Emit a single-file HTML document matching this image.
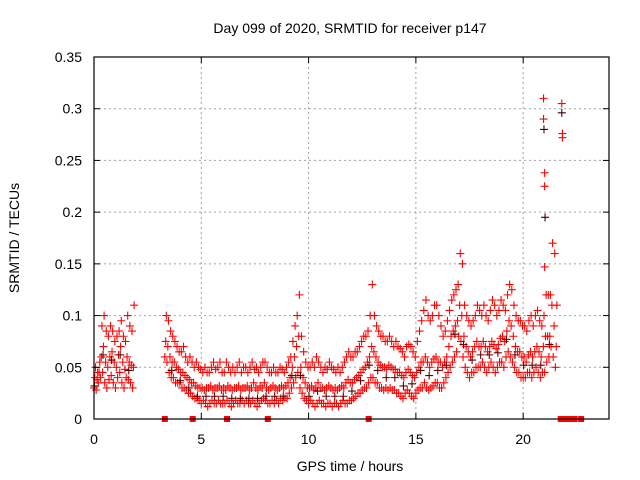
<!DOCTYPE html>
<html><head><meta charset="utf-8"><style>
body{margin:0;background:#fff}
svg{display:block;font-family:"Liberation Sans",sans-serif}
</style></head><body>
<svg id="chart" width="640" height="480" viewBox="0 0 640 480" xmlns="http://www.w3.org/2000/svg">
<rect width="640" height="480" fill="#fff"/>
<text x="350" y="33" font-size="14" text-anchor="middle">Day 099 of 2020, SRMTID for receiver p147</text>
<text x="350" y="471" font-size="14" text-anchor="middle">GPS time / hours</text>
<text transform="translate(19,238) rotate(-90)" font-size="14" text-anchor="middle">SRMTID / TECUs</text>
<g id="grid"></g><g id="marks"></g><g id="axes"></g>
</svg>
<script>
const xTicks=[0,5,10,15,20];
const yTicks=[0,0.05,0.1,0.15,0.2,0.25,0.3,0.35];
const yTickLabels=["0","0.05","0.1","0.15","0.2","0.25","0.3","0.35"];
const startHour=0, stepHour=0.1;
const seriesA=[30,28,35,40,45,35,30,38,42,35,30,40,45,35,30,40,38,35,30,
null,null,null,null,null,null,null,null,null,null,null,null,null,null,
60,55,45,40,40,35,35,
35,30,30,28,25,25,22,20,20,18,
15,18,15,12,15,18,15,15,18,15,
15,15,18,15,12,15,18,15,15,18,
15,18,15,15,18,15,12,15,18,20,
18,15,15,18,15,18,15,20,18,20,
20,25,30,35,40,45,30,25,20,18,
15,18,15,12,15,18,15,15,12,15,
15,12,15,15,12,15,18,15,15,18,
18,20,22,25,25,28,30,30,35,40,
40,35,35,30,30,28,30,28,30,28,
28,25,25,22,20,25,28,25,22,20,
25,28,30,30,35,30,28,30,32,35,
35,30,30,35,40,45,50,55,60,65,
80,75,60,50,45,40,45,45,50,50,
50,55,50,45,50,55,50,45,50,55,
55,50,60,65,60,55,50,45,45,40,
40,40,45,45,40,45,50,45,40,45,
45,55,60,70,60,50,null,null,null,null];
const seriesB=[40,38,45,60,70,55,50,60,65,55,50,62,70,55,48,60,55,52,50,
null,null,null,null,null,null,null,null,null,null,null,null,null,null,
75,70,60,55,55,50,48,
45,45,42,40,38,35,35,32,30,30,
30,28,30,30,32,28,30,30,32,28,
30,28,32,30,28,30,30,32,28,30,
30,32,28,30,35,30,28,32,30,35,
30,28,30,32,30,28,30,32,30,32,
35,40,50,60,70,80,50,40,35,30,
30,32,28,30,35,30,30,28,30,32,
30,28,30,28,30,32,30,35,38,35,
35,38,40,42,45,48,50,55,60,70,
65,60,55,52,50,50,48,52,50,48,
48,45,45,42,40,45,48,45,42,40,
45,50,55,55,60,55,50,55,58,60,
55,55,50,55,60,70,80,85,90,95,
110,100,80,70,65,60,65,70,75,70,
70,75,70,65,70,75,72,68,72,78,
80,75,85,95,90,80,70,65,65,60,
60,55,62,65,60,65,70,65,60,70,
80,80,80,110,90,70,null,null,null,null];
const seriesC=[50,45,55,90,100,85,80,90,85,75,80,85,95,80,75,100,90,85,110,
null,null,null,null,null,null,null,null,null,null,null,null,null,null,
100,95,85,80,75,70,65,
65,70,60,55,60,55,50,55,50,48,
45,50,45,45,50,55,48,50,55,45,
45,55,50,45,50,45,50,55,45,50,
50,45,50,55,48,50,45,50,55,55,
50,45,45,50,45,45,50,48,45,50,
55,60,75,90,100,120,80,65,55,50,
50,55,50,60,55,50,45,50,48,55,
50,48,45,50,45,50,55,60,65,60,
60,65,65,70,75,80,80,85,100,130,
100,90,85,80,80,75,75,80,75,70,
75,70,68,65,60,70,72,70,65,60,
75,85,95,105,115,100,95,100,110,110,
100,90,80,85,95,105,115,120,125,130,
160,150,110,100,95,90,95,100,110,105,
100,110,100,95,105,115,110,100,105,115,
110,105,120,130,125,110,100,95,95,90,
90,85,95,100,90,100,105,95,90,100,
120,120,120,170,160,110,null,null,null,null];
const spikeHours=[20.95,20.95,20.97,21.0,21.0,21.02,21.0,21.8,21.8,21.83,21.83];
const spikeVals=[0.31,0.29,0.28,0.238,0.225,0.195,0.147,0.305,0.296,0.276,0.272];
const zeroHours=[3.3,4.6,6.2,8.1,12.8,21.75,21.95,22.15,22.4,22.7];

const L=94,R=609,T=57,B=419;
const xS=h=>L+(h-0)/24*(R-L);
const yS=v=>B-v/0.35*(B-T);
const NS="http://www.w3.org/2000/svg";
function mk(parent,tag,attrs){const e=document.createElementNS(NS,tag);for(const k in attrs)e.setAttribute(k,attrs[k]);parent.appendChild(e);return e;}
const grid=document.getElementById('grid'),marks=document.getElementById('marks'),axes=document.getElementById('axes');
xTicks.forEach(t=>{const x=xS(t);
 if(t>0){const g=mk(grid,'line',{x1:x,x2:x,y1:T,y2:B,stroke:'#a0a0a0','stroke-dasharray':'2,3'});
 
 }
 mk(axes,'line',{x1:x,x2:x,y1:B,y2:B-6,stroke:'#000'});mk(axes,'line',{x1:x,x2:x,y1:T,y2:T+6,stroke:'#000'});
 const tx=mk(axes,'text',{x:x,y:B+25,'font-size':14,'text-anchor':'middle'});tx.textContent=t;
 
 
});
yTicks.forEach((t,i)=>{const y=yS(t);
 if(t>0&&t<0.35){const g=mk(grid,'line',{x1:L,x2:R,y1:y,y2:y,stroke:'#a0a0a0','stroke-dasharray':'2,3'});
 
 }
 mk(axes,'line',{x1:L,x2:L+6,y1:y,y2:y,stroke:'#000'});mk(axes,'line',{x1:R,x2:R-6,y1:y,y2:y,stroke:'#000'});
 const tx=mk(axes,'text',{x:L-12,y:y+5,'font-size':14,'text-anchor':'end'});tx.textContent=yTickLabels[i];
 
 
});
const frame=mk(axes,'rect',{x:L,y:T,width:R-L,height:B-T,fill:'none',stroke:'#000','stroke-width':1.2});


function plus(h,v,col){const x=xS(h),y=yS(v);
 const p=mk(marks,'path',{d:`M${x-4},${y}h8M${x},${y-4}v8`,stroke:col,'stroke-width':1.1});
 
 }
[[seriesA,0,'#f00'],[seriesB,0.04,'#f00'],[seriesC,0.07,'#f00']].forEach(([s,off,col])=>{
 s.forEach((v,i)=>{if(v!==null)plus(startHour+i*stepHour+off,v/1000,col);});
});
// darker overlay hints
seriesB.forEach((v,i)=>{if(v!==null&&i%4===0)plus(startHour+i*stepHour+0.02,(v-8)/1000,'#600');});
spikeHours.forEach((h,i)=>plus(h,spikeVals[i],i%3===2?'#400':'#f00'));
zeroHours.forEach(h=>{const x=xS(h);
 const r=mk(marks,'rect',{x:x-3,y:B-3,width:6,height:6,fill:'#f00'});
 
 });
</script>
</body></html>
